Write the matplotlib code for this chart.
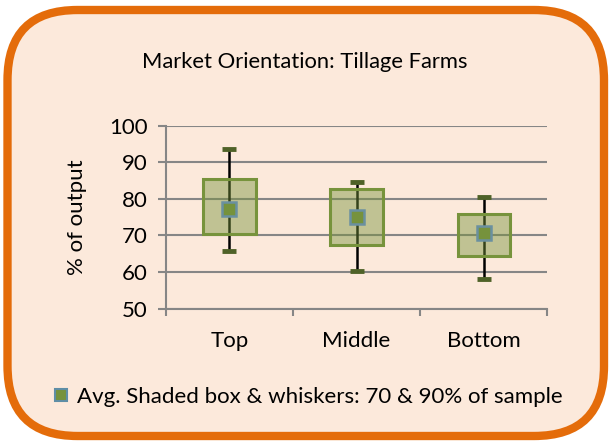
import matplotlib
matplotlib.use("Agg")
import matplotlib.pyplot as plt
from matplotlib.patches import FancyBboxPatch, Rectangle
from matplotlib.lines import Line2D

plt.rcParams["font.family"] = ["Lato", "DejaVu Sans"]

# Data
categories = ["Top", "Middle", "Bottom"]
box_low = [70.3, 67.5, 64.4]
box_high = [85.4, 82.7, 76.0]
whisk_low = [65.7, 60.3, 58.1]
whisk_high = [93.6, 84.7, 80.4]
averages = [77.2, 75.1, 70.8]
y_ticks = [50, 60, 70, 80, 90, 100]

BG = "#FCE9DB"
ORANGE = "#E46C0A"
OLIVE = "#77933C"
DARK_OLIVE = "#4F6228"
GRID = "#868686"

fig = plt.figure(figsize=(6.1, 4.41), dpi=100)
fig.patch.set_facecolor("white")

# Rounded orange frame
frame = FancyBboxPatch((0.075, 0.05), 5.965, 4.26,
                       boxstyle="round,pad=0,rounding_size=0.7",
                       transform=fig.dpi_scale_trans,
                       facecolor=BG, edgecolor=ORANGE, linewidth=6,
                       zorder=-5)
fig.patches.append(frame)

ax = fig.add_axes([0.272, 0.300, 0.625, 0.415])
ax.set_facecolor("none")

x = range(len(categories))
box_w = 0.41
cap_w = 0.11

for i in x:
    # whisker line
    ax.plot([i, i], [whisk_low[i], whisk_high[i]], color="black", lw=1.8, zorder=3)
    # caps
    for v in (whisk_low[i], whisk_high[i]):
        ax.plot([i - cap_w / 2, i + cap_w / 2], [v, v], color=DARK_OLIVE,
                lw=3.5, solid_capstyle="butt", zorder=4)
    # shaded box
    ax.add_patch(Rectangle((i - box_w / 2, box_low[i]), box_w,
                           box_high[i] - box_low[i],
                           facecolor=(0.467, 0.576, 0.235, 0.45),
                           edgecolor=OLIVE, lw=2.2, zorder=5))

ax.plot(list(x), averages, ls="none", marker="s", markersize=9.5,
        markerfacecolor="#76923C", markeredgecolor="#6A90A0",
        markeredgewidth=1.8, zorder=6)

ax.set_ylim(50, 100)
ax.set_yticks(y_ticks)
ax.set_xlim(-0.5, 2.5)
ax.set_xticks([-0.5, 0.5, 1.5, 2.5])
ax.set_xticklabels([])
ax.set_xticks(list(x), minor=True)
ax.set_xticklabels(categories, minor=True)
ax.tick_params(axis="x", which="minor", length=0, pad=16, labelsize=16)
ax.tick_params(axis="x", which="major", length=5, color=GRID, width=1.5)
ax.tick_params(axis="y", length=6, color=GRID, width=1.5, pad=7, labelsize=16)

ax.yaxis.grid(True, color=GRID, lw=1.5)
ax.set_axisbelow(True)
for s in ("top", "right"):
    ax.spines[s].set_visible(False)
for s in ("left", "bottom"):
    ax.spines[s].set_color(GRID)
    ax.spines[s].set_linewidth(1.5)

ax.set_ylabel("% of output", fontsize=16, labelpad=16)

fig.text(0.499, 0.859, "Market Orientation: Tillage Farms", ha="center",
         va="center", fontsize=15.8)

handle = Line2D([], [], ls="none", marker="s", markersize=9,
                markerfacecolor="#76923C", markeredgecolor="#5E8EA6",
                markeredgewidth=1.5)
fig.legend([handle], ["Avg. Shaded box & whiskers: 70 & 90% of sample"],
           loc="center", bbox_to_anchor=(0.502, 0.10), frameon=False,
           fontsize=16, handletextpad=0.25, handlelength=1.0)

fig.savefig("out.png", dpi=100)
